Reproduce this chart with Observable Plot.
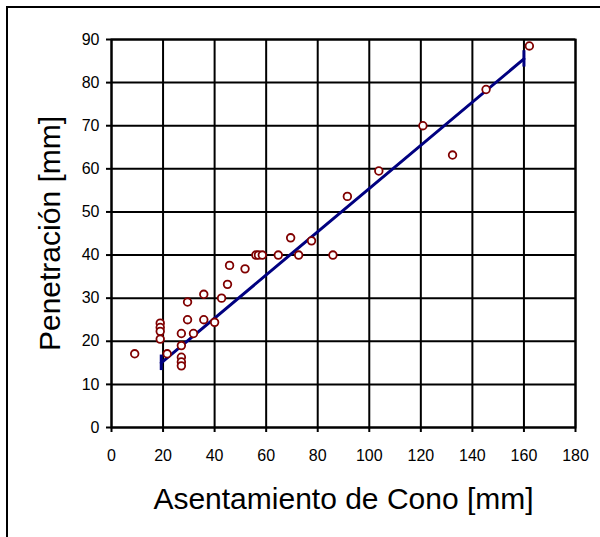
<!DOCTYPE html>
<html>
<head>
<meta charset="utf-8">
<script src="https://cdn.jsdelivr.net/npm/d3@7"></script>
<script src="https://cdn.jsdelivr.net/npm/@observablehq/plot@0.6"></script>
<style>
  html, body { margin: 0; padding: 0; background: white; }
  #wrap { position: relative; width: 600px; height: 537px; overflow: hidden; }
  #border { position: absolute; left: 6px; top: 6px; width: 600px; height: 540px;
            border-top: 2px solid black; border-left: 2px solid black; pointer-events: none; }
</style>
</head>
<body>
<div id="wrap"><div id="border"></div></div>
<script>
// Data
const asentamiento = [9, 18.9, 18.9, 18.9, 18.9, 21.6, 27.1, 27.1, 27.1, 27.1, 27.1, 29.5, 29.5, 31.8, 35.8, 35.8, 40, 42.7, 45, 45.8, 51.8, 56, 57, 58.5, 64.7, 69.5, 72.6, 77.6, 85.9, 91.5, 103.7, 120.8, 132.3, 145.3, 162.1];
const penetracion  = [17.1, 24.2, 23.2, 22.3, 20.5, 17.1, 21.8, 19.0, 16.3, 15.2, 14.3, 29.1, 25.0, 21.8, 30.9, 25.0, 24.4, 30.0, 33.2, 37.6, 36.8, 40, 40, 40, 40, 44, 40, 43.3, 40, 53.6, 59.5, 70, 63.2, 78.4, 88.5];

// Fitted line (end points) and end bar half-length
const fitX = [19.3, 160];
const fitY = [15.0, 85.5];
const fitBar = [1.8, 1.9];

const xTicks = [0, 20, 40, 60, 80, 100, 120, 140, 160, 180];
const yTicks = [0, 10, 20, 30, 40, 50, 60, 70, 80, 90];
const xTitle = "Asentamiento de Cono [mm]";
const yTitle = "Penetración [mm]";

const points = asentamiento.map((x, i) => ({x, y: penetracion[i]}));
const fit = fitX.map((x, i) => ({x, y: fitY[i], e: fitBar[i]}));

const chart = Plot.plot({
  width: 600,
  height: 537,
  marginLeft: 111,
  marginRight: 25,
  marginTop: 39,
  marginBottom: 110,
  style: {fontFamily: "'Liberation Sans', Arial, sans-serif", fontSize: "16px", color: "black", background: "white"},
  x: {domain: [0, 180]},
  y: {domain: [0, 90]},
  marks: [
    Plot.gridX(xTicks, {stroke: "black", strokeOpacity: 1, strokeWidth: 2}),
    Plot.gridY(yTicks, {stroke: "black", strokeOpacity: 1, strokeWidth: 2}),
    Plot.frame({stroke: "black", strokeWidth: 2}),
    Plot.axisX(xTicks, {tickSize: 5, tickPadding: 17, strokeWidth: 2, fontSize: 16, label: null, fill: "black"}),
    Plot.axisY(yTicks, {tickSize: 5, tickPadding: 7, strokeWidth: 2, fontSize: 16, label: null, fill: "black"}),
    Plot.line(fit, {x: "x", y: "y", stroke: "#000080", strokeWidth: 3}),
    Plot.ruleX(fit, {x: "x", y1: d => d.y - d.e, y2: d => d.y + d.e, stroke: "#000080", strokeWidth: 3}),
    Plot.dot(points, {x: "x", y: "y", r: 3.8, stroke: "#800000", fill: "white", strokeWidth: 1.8}),
    Plot.text([xTitle], {text: d => d, frameAnchor: "bottom", dy: 72, fontSize: 30, lineAnchor: "middle", textAnchor: "middle", fill: "black"}),
    Plot.text([yTitle], {text: d => d, frameAnchor: "left", rotate: -90, dx: -61.5, fontSize: 30, lineAnchor: "middle", textAnchor: "middle", fill: "black"})
  ]
});
document.getElementById("wrap").insertBefore(chart, document.getElementById("border"));
</script>
</body>
</html>
